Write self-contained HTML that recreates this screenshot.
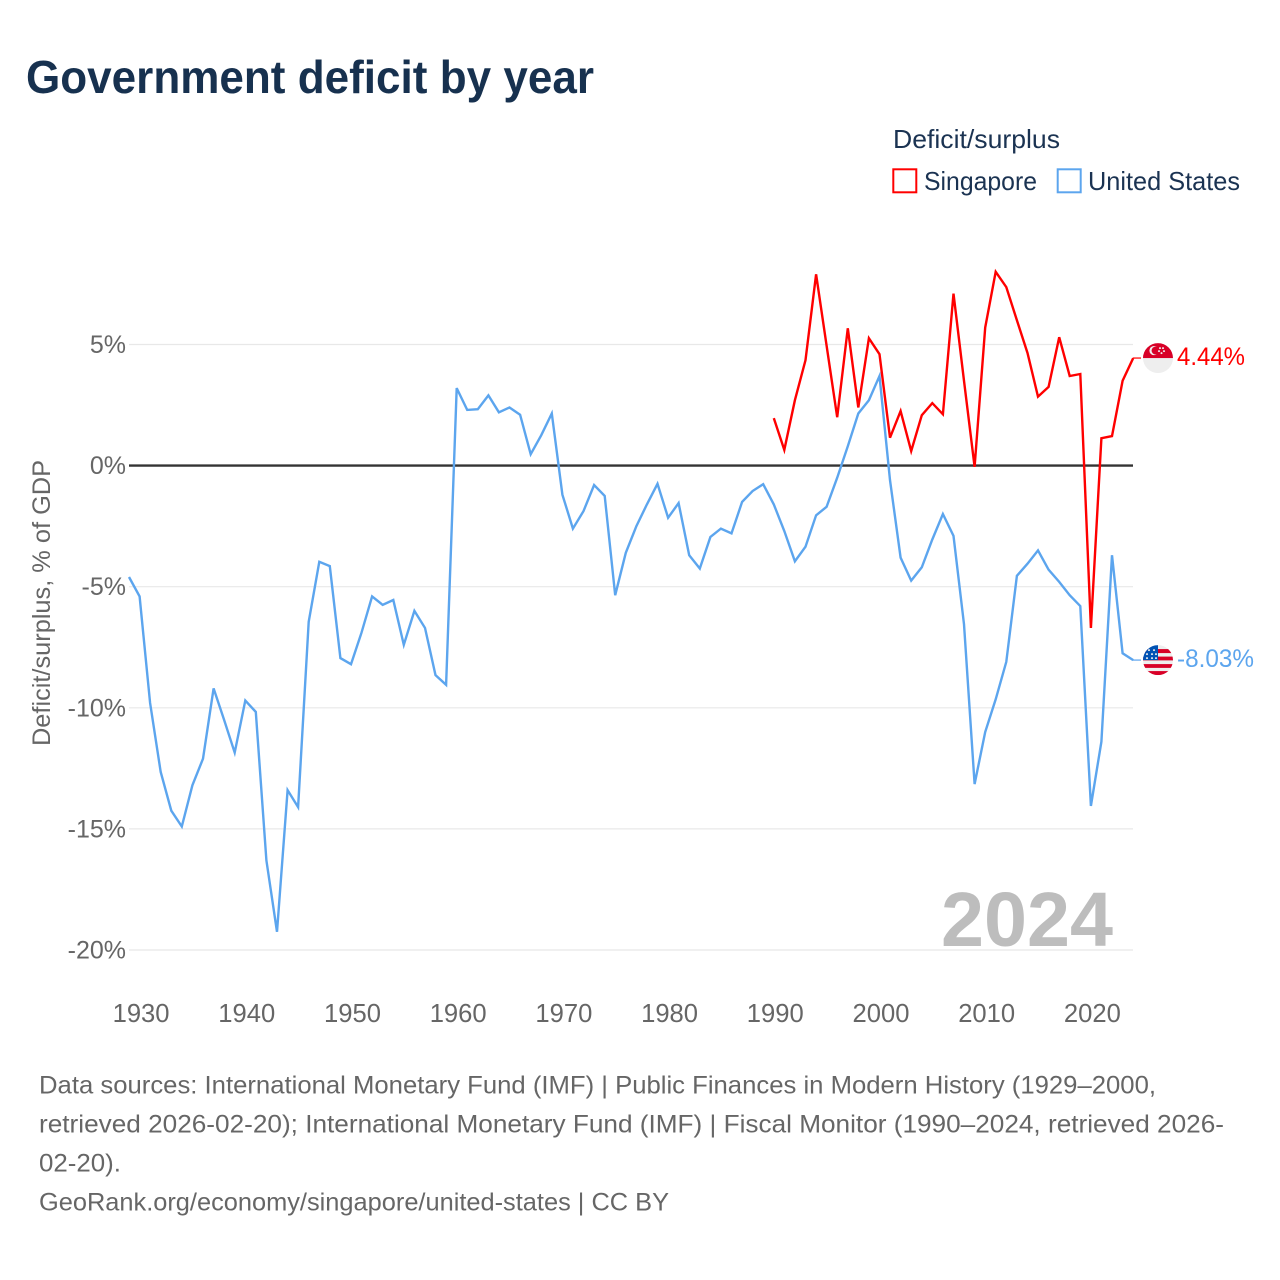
<!DOCTYPE html>
<html lang="en">
<head>
<meta charset="utf-8">
<title>Government deficit by year</title>
<style>
html,body{margin:0;padding:0;background:#fff;width:1280px;height:1280px;overflow:hidden}
svg{display:block;font-family:"Liberation Sans",sans-serif}
.src{font-size:25px;fill:#666}
.leg{font-size:26px;fill:#1b3352}
</style>
</head>
<body>
<svg id="chart" width="1280" height="1280" viewBox="0 0 1280 1280" xmlns="http://www.w3.org/2000/svg">
  <defs>
    <clipPath id="flag-clip-sg"><circle cx="0" cy="0" r="15"/></clipPath>
    <clipPath id="flag-clip-us"><circle cx="0" cy="0" r="15"/></clipPath>
  </defs>
  <text x="26" y="93" font-size="46" font-weight="bold" fill="#17314f" textLength="568" lengthAdjust="spacingAndGlyphs">Government deficit by year</text>

  <g>
    <text class="leg" x="893" y="148" textLength="167" lengthAdjust="spacingAndGlyphs">Deficit/surplus</text>
    <rect x="893.3" y="169.3" width="23" height="23" fill="none" stroke="#ff0000" stroke-width="2"/>
    <text class="leg" x="924" y="190" textLength="113" lengthAdjust="spacingAndGlyphs">Singapore</text>
    <rect x="1057.7" y="169.3" width="23" height="23" fill="none" stroke="#5ca5ee" stroke-width="2"/>
    <text class="leg" x="1088" y="190" textLength="152" lengthAdjust="spacingAndGlyphs">United States</text>
  </g>

  <g id="grid"></g>
  <g id="yticks"></g>
  <g id="xticks"></g>
  <text transform="translate(50,603) rotate(-90)" text-anchor="middle" font-size="25" fill="#666" textLength="286" lengthAdjust="spacingAndGlyphs">Deficit/surplus, % of GDP</text>
  <text x="941" y="946" font-size="77" font-weight="bold" fill="#bdbdbd" textLength="172" lengthAdjust="spacingAndGlyphs">2024</text>

  <g id="series"></g>

  <g id="flag-sg">
    <g clip-path="url(#flag-clip-sg)">
      <rect x="-15" y="-15" width="30" height="30" fill="#eeeeee"/>
      <rect x="-15" y="-15" width="30" height="15" fill="#d80027"/>
      <circle cx="-4" cy="-7.5" r="4.6" fill="#eeeeee"/>
      <circle cx="-2.4" cy="-7.5" r="4" fill="#d80027"/>
      <circle cx="2" cy="-10" r="1" fill="#eeeeee"/>
      <circle cx="5" cy="-10" r="1" fill="#eeeeee"/>
      <circle cx="1" cy="-7" r="1" fill="#eeeeee"/>
      <circle cx="6" cy="-7" r="1" fill="#eeeeee"/>
      <circle cx="3.5" cy="-5" r="1" fill="#eeeeee"/>
    </g>
  </g>
  <g id="flag-us">
    <g clip-path="url(#flag-clip-us)">
      <rect x="-15" y="-15" width="30" height="30" fill="#eeeeee"/>
      <rect x="-15" y="-11" width="30" height="4" fill="#d80027"/>
      <rect x="-15" y="-3.5" width="30" height="3.8" fill="#d80027"/>
      <rect x="-15" y="4" width="30" height="3.8" fill="#d80027"/>
      <rect x="-15" y="11" width="30" height="4" fill="#d80027"/>
      <rect x="-15" y="-15" width="15" height="15" fill="#0052b4"/>
      <g fill="#eeeeee">
        <circle cx="-9" cy="-10" r="1"/><circle cx="-4" cy="-10" r="1"/>
        <circle cx="-11" cy="-6" r="1"/><circle cx="-6" cy="-6" r="1"/><circle cx="-2" cy="-6" r="1"/>
        <circle cx="-11" cy="-2" r="1"/><circle cx="-6" cy="-2" r="1"/><circle cx="-2" cy="-2" r="1"/>
      </g>
    </g>
  </g>
  <g id="endlabels"></g>

  <g>
    <text class="src" x="39" y="1093.5" textLength="1117" lengthAdjust="spacingAndGlyphs">Data sources: International Monetary Fund (IMF) | Public Finances in Modern History (1929–2000,</text>
    <text class="src" x="39" y="1132.5" textLength="1185" lengthAdjust="spacingAndGlyphs">retrieved 2026-02-20); International Monetary Fund (IMF) | Fiscal Monitor (1990–2024, retrieved 2026-</text>
    <text class="src" x="39" y="1171.5" textLength="82" lengthAdjust="spacingAndGlyphs">02-20).</text>
    <text class="src" x="39" y="1210.5" textLength="630" lengthAdjust="spacingAndGlyphs">GeoRank.org/economy/singapore/united-states | CC BY</text>
  </g>
</svg>
<script>
var usStartYear = 1929;
var sgStartYear = 1990;
var usValues = [-4.6,-5.4,-9.8,-12.65,-14.25,-14.9,-13.2,-12.1,-9.2,-10.5,-11.85,-9.7,-10.17,-16.3,-19.25,-13.4,-14.1,-6.45,-3.97,-4.15,-7.95,-8.2,-6.9,-5.4,-5.75,-5.55,-7.4,-6.0,-6.7,-8.65,-9.05,3.2,2.3,2.33,2.9,2.2,2.4,2.1,0.47,1.25,2.15,-1.2,-2.6,-1.88,-0.8,-1.25,-5.35,-3.6,-2.5,-1.6,-0.75,-2.15,-1.55,-3.7,-4.25,-2.95,-2.6,-2.8,-1.5,-1.05,-0.77,-1.6,-2.7,-3.95,-3.35,-2.05,-1.7,-0.5,0.8,2.15,2.7,3.7,-0.6,-3.8,-4.75,-4.2,-3.05,-2.0,-2.9,-6.55,-13.15,-11.0,-9.65,-8.1,-4.55,-4.05,-3.5,-4.3,-4.8,-5.35,-5.8,-14.05,-11.4,-3.7,-7.75,-8.03];
var sgValues = [1.96,0.65,2.7,4.35,7.9,4.95,2.0,5.67,2.4,5.26,4.6,1.15,2.25,0.6,2.08,2.58,2.12,7.1,3.5,-0.05,5.7,8.0,7.37,6.0,4.65,2.85,3.25,5.3,3.7,3.78,-6.7,1.13,1.22,3.5,4.44];
var yTickValues = [5,0,-5,-10,-15,-20];
var xTickYears = [1930,1940,1950,1960,1970,1980,1990,2000,2010,2020];

var NS = 'http://www.w3.org/2000/svg';
var PLOT_LEFT = 129;
var PLOT_RIGHT = 1133;
function xScale(year){ return 129 + (year - 1929) * 10.57; }
function yScale(v){ return 465.6 - v * 24.22; }
function make(tag, attrs){
  var el = document.createElementNS(NS, tag);
  for (var k in attrs) el.setAttribute(k, attrs[k]);
  return el;
}
function pointsFor(start, values){
  return values.map(function(v, i){
    return xScale(start + i).toFixed(1) + ',' + yScale(v).toFixed(1);
  }).join(' ');
}

var grid = document.getElementById('grid');
var yticks = document.getElementById('yticks');
yTickValues.forEach(function(v){
  if (v !== 0) {
    var ln = make('line', {x1: PLOT_LEFT, x2: PLOT_RIGHT, y1: yScale(v), y2: yScale(v), stroke: '#e8e8e8', 'stroke-width': 1.2});
    
    
    grid.appendChild(ln);
  }
  var t = make('text', {x: 126, y: yScale(v) + 8.5, 'text-anchor': 'end', 'font-size': 25, fill: '#666'});
  
  
  t.textContent = v + '%';
  yticks.appendChild(t);
});

var xticks = document.getElementById('xticks');
xTickYears.forEach(function(y){
  var t = make('text', {x: xScale(y) + 1.5, y: 1022, 'text-anchor': 'middle', 'font-size': 25.6, fill: '#666'});
  
  
  t.textContent = y;
  xticks.appendChild(t);
});

var series = document.getElementById('series');
var zero = make('line', {x1: PLOT_LEFT, x2: PLOT_RIGHT, y1: yScale(0), y2: yScale(0), stroke: '#333333', 'stroke-width': 2.4});


series.appendChild(zero);

var usLine = make('polyline', {points: pointsFor(usStartYear, usValues), fill: 'none', stroke: '#5ca5ee', 'stroke-width': 2.4, 'stroke-linejoin': 'miter'});


series.appendChild(usLine);

var sgLine = make('polyline', {points: pointsFor(sgStartYear, sgValues), fill: 'none', stroke: '#ff0000', 'stroke-width': 2.4, 'stroke-linejoin': 'miter'});


series.appendChild(sgLine);

var usLast = usValues[usValues.length - 1];
var sgLast = sgValues[sgValues.length - 1];

var sgConn = make('line', {x1: PLOT_RIGHT, x2: 1141, y1: yScale(sgLast), y2: yScale(sgLast), stroke: '#ff0000', 'stroke-width': 1.6, opacity: 0.75});


series.appendChild(sgConn);

var usConn = make('line', {x1: PLOT_RIGHT, x2: 1141, y1: yScale(usLast), y2: yScale(usLast), stroke: '#5ca5ee', 'stroke-width': 1.6, opacity: 0.75});


series.appendChild(usConn);

document.getElementById('flag-sg').setAttribute('transform', 'translate(1158,' + yScale(sgLast) + ')');
document.getElementById('flag-us').setAttribute('transform', 'translate(1158,' + yScale(usLast) + ')');

var endlabels = document.getElementById('endlabels');
var sgLabel = make('text', {x: 1177, y: yScale(sgLast) + 7, 'font-size': 25, fill: '#ff0000', textLength: 68, lengthAdjust: 'spacingAndGlyphs'});


sgLabel.textContent = sgLast.toFixed(2) + '%';
endlabels.appendChild(sgLabel);

var usLabel = make('text', {x: 1177, y: yScale(usLast) + 7, 'font-size': 25, fill: '#5ca5ee', textLength: 77, lengthAdjust: 'spacingAndGlyphs'});


usLabel.textContent = usLast.toFixed(2) + '%';
endlabels.appendChild(usLabel);
</script>
</body>
</html>
